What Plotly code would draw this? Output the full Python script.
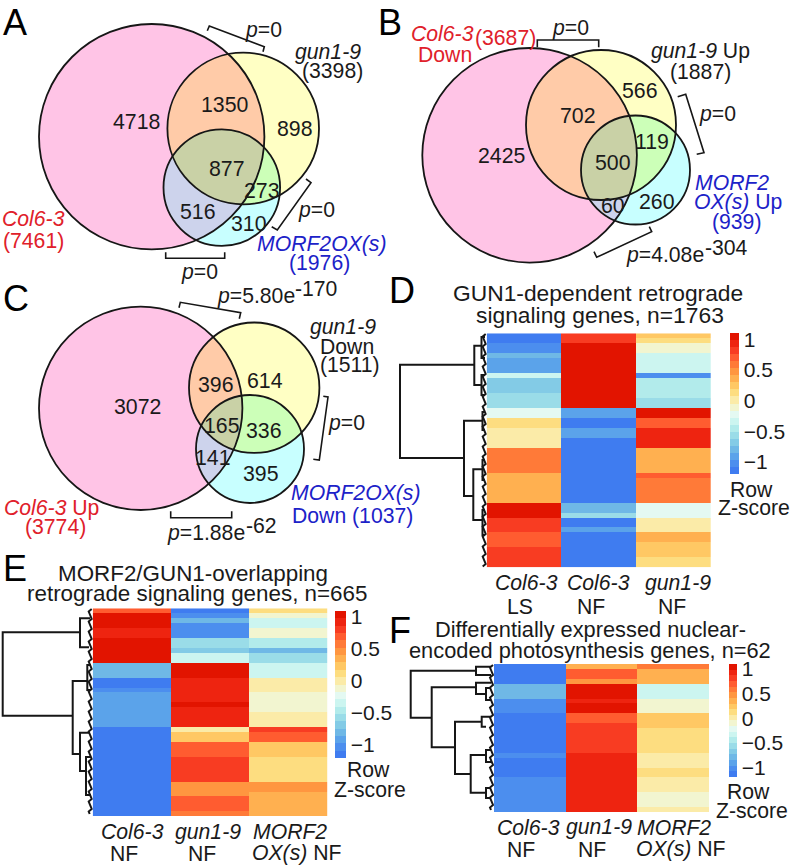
import numpy as np
import plotly.graph_objects as go

W, H = 793, 868
FONT = "Liberation Sans"

# venn circles, page pixels: (cx, cy, r) for the three sets
venn_a = [(151.7, 136.7, 112.7), (243.2, 128.5, 75.8), (221.8, 187.6, 58.3)]
venn_b = [(529.6, 155.3, 107.3), (601.0, 125.0, 75.0), (635.5, 170.0, 54.5)]
venn_c = [(140.7, 408.3, 101.7), (254.2, 387.7, 65.2), (250.0, 449.0, 54.0)]

pink, yellow, cyan = "#FFC4E6", "#FFFFC4", "#C8FFFF"
pink_yellow, pink_cyan, yellow_cyan, all_three = "#FFCBA8", "#CDD3EC", "#CCFFB8", "#C9D1A6"

# heatmap rows, top to bottom
d_col6_ls = [-1.15, -1.15, -1, -1, -.85, -.9, -.9, -.9, -.3, -.7, -.7, -.7, -.55, -.55, -.55, -.25, -.25,
             .15, .15, -.05, -.05, -.05, -.05, .55, .55, .6, .6, .6, .3, .35, .4, .4, .4, .4,
             1, 1, 1, .85, .85, .85, .65, .65, .65, .8, .8, .8, .8]
d_col6_nf = [.85, .85, 1.05, 1.05, 1.05, 1.05, 1.05, 1.05, 1.05, 1.05, 1.05, 1.05, 1.05, 1.05, 1.05, -.9, -.9,
             -1.15, -1.15, -.95, -.95, -1.15, -1.15, -1.15, -1.15, -1.15, -1.15, -1.15, -1.15, -1.15, -1.15,
             -1.15, -1.15, -1.15, -.85, -.85, -.55, -1.1, -1.1, -.9, -1.15, -1.15, -1.15, -1.15, -1.15, -1.15, -1.15]
d_gun1 = [.2, .1, -.1, -.1, -.35, -.35, -.35, -.35, -1, -.45, -.45, -.45, -.5, -.6, -.6, 1, 1,
          .7, .7, .9, .9, .9, .9, .4, .4, .3, .3, .3, .7, .55, .55, .55, .55, .55,
          -.25, -.25, -.25, .05, 0, 0, .3, .3, .2, .2, .2, .1, .1]

e_col6 = [.75, 1, 1, 1, .9, .95, 1, 1, 1, 1, 1, -.8, -.8, -.8, -1.1, -1.1, -1, -.95, -.95, -.95, -.95, -.95,
          -.95, -.95, -1.15, -1.15, -1.15, -1.15, -1.15, -1.15, -1.15, -1.15, -1.15, -1.15, -1.15, -1.15,
          -1.15, -1.15, -1.15, -1.15, -1.15, -1.15]
e_gun1 = [-1.15, -1, -.85, -1, -1, -1, -.55, -.55, -.7, -.3, -.3, 1.05, 1.05, 1.05, .9, .9, .9, .9, .95, 1,
          .9, .9, .9, .9, .05, .25, .2, .75, .7, .75, .8, .8, .8, .85, .85, .5, .5, .45, .65, .65, .65, .55]
e_morf2 = [.1, -.1, -.3, -.3, -.15, -.15, -.5, -.5, -.8, -.6, -.6, -.3, -.3, -.3, .05, .05, 0, -.08, -.08,
           -.08, -.08, 0, 0, 0, .85, .7, .7, .2, .2, .2, .1, .1, .1, .1, .1, .45, .45, .4, .3, .3, .3, .35]

f_col6 = [-1.15, -1.15, -1.15, -1.15, -.8, -.8, -.8, -1, -1, -1, -1.15, -1.15, -1.15, -1.15, -1.15, -1.15,
          -1.15, -1.15, -1, -1.15, -1.15, -1.15, -1.15, -1, -1, -1, -1, -1, -1, -1]
f_gun1 = [.4, .65, .65, .5, 1.05, 1.05, 1.05, .95, 1.05, 1.05, .7, .75, .8, .8, .8, .8, .8, .8,
          .9, .9, .9, .9, .9, .9, .9, .9, .9, .9, .9, .9]
f_morf2 = [.55, .35, .35, .35, -.3, -.3, -.3, -.1, -.1, -.1, .25, .25, .25, .12, .12, .12, .12, .12,
           0, 0, 0, .12, .12, .02, .02, .02, -.1, -.1, -.1, .02]

bar_colors = ["#3F7CF0", "#4C8EEE", "#5BA3EA", "#6FB8E6", "#83CBE6", "#9ADCE8", "#B2EBEB", "#CCF5F0",
              "#E4F9F2", "#F2F5D0", "#FBEBA8", "#FDDD80", "#FFC864", "#FFB050", "#FF9640", "#FF7A38",
              "#FF5C30", "#F83C22", "#EE2410", "#E21400"]
bar_ticks = [-1, -.5, 0, .5, 1]
bar_labels = ["\u22121", "\u22120.5", "0", "0.5", "1"]

# dendrogram brackets: (x of the stem, y top, y bottom, x of top child, x of bottom child)
dend_d = [(400, 364.7, 458, 474.3, 464), (474.3, 345.7, 385, 481.5, 481.5), (464, 420.7, 496, 482.5, 473.3),
          (473.3, 469.3, 520, 482.5, 482.5), (481.5, 337, 358, 485, 485), (481.5, 375, 395, 485, 485),
          (482.5, 412, 430, 485, 485), (482.5, 460, 480, 485, 485), (482.5, 510, 535, 485, 485)]
dend_e = [(2.7, 632.3, 715.7, 80, 72.7), (80, 618.3, 647.3, 90, 89), (72.7, 681, 754, 87.3, 80),
          (87.3, 665, 690, 91, 91), (80, 732.7, 771, 90, 86), (86, 757, 795, 91, 91)]
dend_f = [(410.7, 670.7, 717.7, 476, 431.7), (476, 666.7, 675, 491, 491), (431.7, 687.3, 747.3, 476, 455),
          (476, 682.7, 694, 491, 486), (486, 688, 700, 491, 491), (455, 721.7, 774, 481.7, 470.7),
          (481.7, 716.7, 726.7, 491, 486), (470.7, 755, 792.7, 486, 486), (486, 750, 762, 491, 491),
          (486, 788, 798, 491, 491)]

# open brackets next to the venns, page pixels
brackets = [
    [(207.3, 30.7), (209.3, 26), (264.3, 46.7), (263, 51.7)],
    [(306, 179), (311, 182.7), (277.3, 230), (271.7, 226.7)],
    [(165.7, 252.3), (165.7, 258.3), (224.7, 258.3), (224.7, 252.3)],
    [(537.3, 47.3), (537.3, 40), (598.7, 40), (598.7, 47.3)],
    [(677.7, 96.7), (685.7, 94.3), (704, 152.7), (696.7, 154.3)],
    [(594, 251.7), (596.7, 257.3), (651.7, 231.7), (649.3, 226.7)],
    [(179, 307.7), (180.3, 302.3), (240.7, 312.7), (239.3, 318.7)],
    [(323.3, 396.3), (328, 397), (319.3, 460), (313.3, 459.3)],
    [(170.7, 511.3), (170.7, 517.7), (231.7, 517.7), (231.7, 511.3)],
]

# (text, x, y, colour, size)
RED, BLUE, INK = "#E0202A", "#1C22C8", "#1A1A1A"
NUM, LAB, HEAD, PANEL = 21.3, 21.2, 22.4, 36
labels = [
    ("A", 15, 22, "#000", PANEL), ("B", 390, 22, "#000", PANEL), ("C", 15.7, 298, "#000", PANEL),
    ("D", 401.7, 290, "#000", PANEL), ("E", 15, 568, "#000", PANEL), ("F", 400, 630, "#000", PANEL),
    # A
    ("4718", 136, 122, INK, NUM), ("1350", 225.3, 105, INK, NUM), ("898", 295, 129, INK, NUM),
    ("877", 227.3, 169, INK, NUM), ("273", 262, 190.7, INK, NUM), ("516", 197.7, 212.3, INK, NUM),
    ("310", 249.3, 224, INK, NUM),
    ("<i>gun1-9</i>", 327.7, 51.7, INK, LAB), ("(3398)", 332.7, 71, INK, LAB),
    ("<i>Col6-3</i>", 33.3, 218.3, RED, LAB), ("(7461)", 33.3, 240.7, RED, LAB),
    ("<i>MORF2OX(s)</i>", 321.7, 244, BLUE, LAB), ("(1976)", 319.3, 262.7, BLUE, LAB),
    ("<i>p</i>=0", 263.3, 30, INK, LAB), ("<i>p</i>=0", 316, 210, INK, LAB), ("<i>p</i>=0", 199, 271.7, INK, LAB),
    # B
    ("<i>Col6-3</i>", 442.7, 33, RED, LAB), ("(3687)", 505, 37.7, RED, LAB), ("Down", 445, 54, RED, LAB),
    ("<i>p</i>=0", 570.7, 28, INK, LAB), ("<i>gun1-9</i> Up", 700, 50.7, INK, LAB), ("(1887)", 700, 71.7, INK, LAB),
    ("566", 640, 90.7, INK, NUM), ("702", 577.7, 115.7, INK, NUM), ("2425", 501.7, 156, INK, NUM),
    ("119", 652.3, 141.7, INK, NUM), ("500", 613.3, 163.3, INK, NUM), ("60", 613.3, 206, INK, NUM),
    ("260", 657.3, 202.3, INK, NUM), ("<i>p</i>=0", 717.3, 114.3, INK, LAB),
    ("<i>MORF2</i>", 731.7, 182.3, BLUE, LAB), ("<i>OX(s)</i> Up", 738.3, 201.7, BLUE, LAB), ("(939)", 736, 221.7, BLUE, LAB),
    ("<i>p</i>=4.08e", 665, 255, INK, LAB), ("-304", 726, 247, INK, LAB),
    # C
    ("3072", 137.3, 407.3, INK, NUM), ("396", 216, 385, INK, NUM), ("614", 265, 380.7, INK, NUM),
    ("165", 221.7, 426, INK, NUM), ("336", 264, 431, INK, NUM), ("141", 213.3, 458.3, INK, NUM),
    ("395", 260.7, 474.3, INK, NUM),
    ("<i>gun1-9</i>", 343.3, 327.3, INK, LAB), ("Down", 346.7, 346, INK, LAB), ("(1511)", 350, 365, INK, LAB),
    ("<i>p</i>=5.80e", 255.5, 296, INK, LAB), ("-170", 316, 288, INK, LAB), ("<i>p</i>=0", 346, 423.3, INK, LAB),
    ("<i>MORF2OX(s)</i>", 355.8, 493.3, BLUE, LAB), ("Down (1037)", 352, 515.7, BLUE, LAB),
    ("<i>Col6-3</i> Up", 51.7, 508.3, RED, LAB), ("(3774)", 55, 527.3, RED, LAB),
    ("<i>p</i>=1.88e", 205.5, 533, INK, LAB), ("-62", 261.7, 525, INK, LAB),
    # D
    ("GUN1-dependent retrograde", 597.7, 292.7, INK, HEAD + .4), ("signaling genes, n=1763", 600, 315, INK, HEAD + .4),
    ("<i>Col6-3</i>", 526, 582.7, INK, LAB), ("<i>Col6-3</i>", 598.3, 582.7, INK, LAB), ("<i>gun1-9</i>", 678.3, 582.7, INK, LAB),
    ("LS", 520, 606.7, INK, LAB), ("NF", 590.7, 606.7, INK, LAB), ("NF", 671.7, 606.7, INK, LAB),
    ("Row", 751.7, 489.3, INK, LAB), ("Z-score", 754, 507.7, INK, LAB),
    # E
    ("MORF2/GUN1-overlapping", 193.3, 573.3, INK, HEAD), ("retrograde signaling genes, n=665", 196.7, 593.3, INK, HEAD),
    ("<i>Col6-3</i>", 132.3, 831.7, INK, LAB), ("<i>gun1-9</i>", 208.3, 831.7, INK, LAB), ("<i>MORF2</i>", 290, 831.7, INK, LAB),
    ("NF", 124, 853.3, INK, LAB), ("NF", 201.7, 853.3, INK, LAB), ("<i>OX(s)</i> NF", 296.7, 853.3, INK, LAB),
    ("Row", 368.3, 769.3, INK, LAB), ("Z-score", 370, 789, INK, LAB),
    # F
    ("Differentially expressed nuclear-", 590, 629.3, INK, HEAD - .6), ("encoded photosynthesis genes, n=62", 590, 650, INK, HEAD - .6),
    ("<i>Col6-3</i>", 528.3, 827.3, INK, LAB), ("<i>gun1-9</i>", 599, 827.3, INK, LAB), ("<i>MORF2</i>", 674.3, 827.3, INK, LAB),
    ("NF", 520.7, 849.3, INK, LAB), ("NF", 592.3, 849.3, INK, LAB), ("<i>OX(s)</i> NF", 681, 849.3, INK, LAB),
    ("Row", 748.3, 791.7, INK, LAB), ("Z-score", 751.7, 810.7, INK, LAB),
]


def lens(circles):
    # intersection of discs is convex, so points on the rims sorted by angle make the outline
    pts = []
    for i, (cx, cy, r) in enumerate(circles):
        for t in np.linspace(0, 2 * np.pi, 720, endpoint=False):
            px, py = cx + r * np.cos(t), cy + r * np.sin(t)
            if all((px - a) ** 2 + (py - b) ** 2 <= c ** 2 for j, (a, b, c) in enumerate(circles) if j != i):
                pts.append((px, py))
    pts = np.array(pts)
    mid = pts.mean(axis=0)
    pts = pts[np.argsort(np.arctan2(pts[:, 1] - mid[1], pts[:, 0] - mid[0]))]
    return "M" + "L".join(f"{x:.2f},{y:.2f}" for x, y in pts) + "Z"


def venn_shapes(circles):
    out = []
    for (cx, cy, r), col in zip(circles, [pink, yellow, cyan]):
        out.append(dict(type="circle", x0=cx - r, x1=cx + r, y0=cy - r, y1=cy + r,
                        fillcolor=col, line_width=0, xref="x", yref="y", layer="below"))
    a, b, c = circles
    for group, col in [([a, b], pink_yellow), ([a, c], pink_cyan), ([b, c], yellow_cyan), ([a, b, c], all_three)]:
        out.append(dict(type="path", path=lens(group), fillcolor=col, line_width=0,
                        xref="x", yref="y", layer="below"))
    for cx, cy, r in circles:
        out.append(dict(type="circle", x0=cx - r, x1=cx + r, y0=cy - r, y1=cy + r,
                        line=dict(color="#161616", width=1.8), xref="x", yref="y", layer="below"))
    return out


colorscale = []
for i, col in enumerate(bar_colors):
    colorscale += [[i / len(bar_colors), col], [(i + 1) / len(bar_colors), col]]

fig = go.Figure()

# full page overlay axis for venns, brackets, dendrograms
fig.add_trace(go.Scatter(x=[0, W], y=[0, H], mode="markers", marker_opacity=0, showlegend=False, hoverinfo="skip"))


def add_heat(n, cols, box, bar):
    x0, x1, y0, y1 = box
    fig.add_trace(go.Heatmap(
        z=np.column_stack(cols), x=[0, 1, 2], colorscale=colorscale, zmin=-1.2, zmax=1.1,
        xaxis=f"x{n}", yaxis=f"y{n}", xgap=0, ygap=0,
        colorbar=dict(x=bar[0] / W, xanchor="left", y=1 - (bar[2] + bar[3]) / 2 / H, yanchor="middle",
                      lenmode="pixels", len=bar[3] - bar[2], thicknessmode="pixels", thickness=bar[1] - bar[0],
                      tickvals=bar_ticks, ticktext=bar_labels, ticks="", outlinewidth=0, xpad=0, ypad=0,
                      tickfont=dict(family=FONT, size=21, color=INK))))
    fig.update_layout({
        f"xaxis{n}": dict(domain=[x0 / W, x1 / W], anchor=f"y{n}", visible=False),
        f"yaxis{n}": dict(domain=[1 - y1 / H, 1 - y0 / H], anchor=f"x{n}", visible=False, autorange="reversed"),
    })


add_heat(2, [d_col6_ls, d_col6_nf, d_gun1], (486.7, 711, 333.3, 567.3), (730, 739.3, 333.3, 474.3))
add_heat(3, [e_col6, e_gun1, e_morf2], (92.7, 327.3, 608.3, 816), (335, 345.7, 610.7, 757.7))
add_heat(4, [f_col6, f_gun1, f_morf2], (494, 709.3, 664, 812.3), (729, 737.3, 664, 777.3))

for dend, edge, top, bottom in [(dend_d, 486.7, 334, 567), (dend_e, 92.7, 609, 815), (dend_f, 494, 665, 812)]:
    xs, ys = [], []
    for stem, y_a, y_b, kid_a, kid_b in dend:
        xs += [kid_a, stem, stem, kid_b, None]
        ys += [y_a, y_a, y_b, y_b, None]
    fig.add_trace(go.Scatter(x=xs, y=ys, mode="lines", line=dict(color="#161616", width=2),
                             showlegend=False, hoverinfo="skip"))
    # tangle of leaves against the heatmap edge
    leaf_y = np.arange(top, bottom, 2.5)
    leaf_x = [edge - (1 + (k * 7) % 4) for k in range(len(leaf_y))]
    fig.add_trace(go.Scatter(x=leaf_x, y=leaf_y, mode="lines", line=dict(color="#161616", width=2),
                             showlegend=False, hoverinfo="skip"))

xs, ys = [], []
for br in brackets:
    xs += [p[0] for p in br] + [None]
    ys += [p[1] for p in br] + [None]
fig.add_trace(go.Scatter(x=xs, y=ys, mode="lines", line=dict(color="#161616", width=1.6),
                         showlegend=False, hoverinfo="skip"))

shapes = venn_shapes(venn_a) + venn_shapes(venn_b) + venn_shapes(venn_c)
annotations = [dict(text=t, x=x, y=y, xref="x", yref="y", xanchor="center", yanchor="middle", showarrow=False,
                    font=dict(family=FONT, size=s, color=c)) for t, x, y, c, s in labels]

fig.update_layout(
    width=W, height=H, autosize=False, margin=dict(l=0, r=0, t=0, b=0),
    paper_bgcolor="white", plot_bgcolor="rgba(0,0,0,0)", showlegend=False,
    xaxis=dict(domain=[0, 1], range=[0, W], visible=False),
    yaxis=dict(domain=[0, 1], range=[H, 0], visible=False),
    shapes=shapes, annotations=annotations,
)

fig.write_html("out.html", config={"displayModeBar": False},
               post_script="document.body.style.margin='0';document.body.style.overflow='hidden';")
